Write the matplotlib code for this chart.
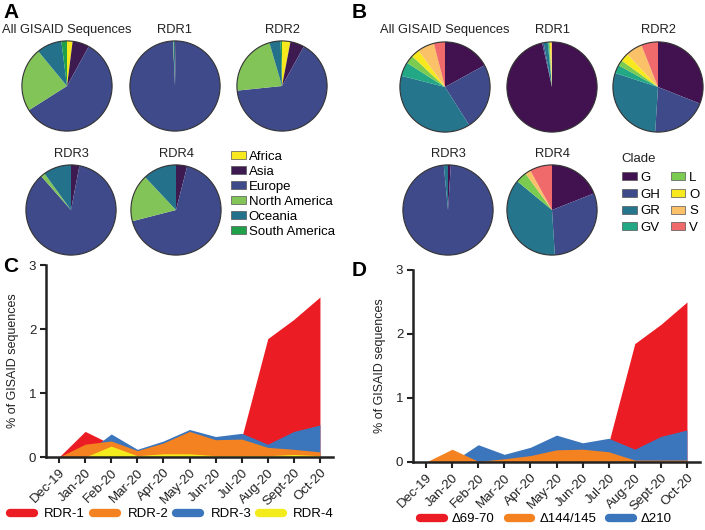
import numpy as np
import matplotlib
matplotlib.use("Agg")
import matplotlib.pyplot as plt
from matplotlib.lines import Line2D
from matplotlib.patches import Patch, Circle

plt.rcParams['font.family'] = ['Liberation Sans', 'DejaVu Sans']

W, H = 705, 530
FS = 9

# panel A: geographic origin
regions = ['Africa', 'Asia', 'Europe', 'North America', 'Oceania', 'South America']
regionColors = ['#f7e91e', '#3d1a4f', '#3f4a8a', '#82c458', '#23718a', '#21a04a']
regionAll = [2, 6, 58, 23, 9, 2]
regionRDR1 = [0, 0.3, 99, 0.2, 0.5, 0]
regionRDR2 = [3, 5, 65, 22, 4, 0.5]
regionRDR3 = [0, 3, 85.5, 1.5, 10, 0]
regionRDR4 = [0, 4, 67, 17, 12, 0]

# panel B: clades
clades = ['G', 'GH', 'GR', 'GV', 'L', 'O', 'S', 'V']
cladeColors = ['#41124f', '#3f4a8a', '#25758c', '#22a884', '#7acb50', '#f7e91e', '#fbc168', '#f06a6c']
cladeAll = [17, 24, 38, 5, 3, 3, 6, 4]
cladeRDR1 = [96.5, 0.5, 1.5, 0.3, 0.4, 0.4, 0.4, 0]
cladeRDR2 = [31, 20, 29, 3, 2, 3, 6, 6]
cladeRDR3 = [1, 97.5, 1.5, 0, 0, 0, 0, 0]
cladeRDR4 = [19, 30, 37, 0, 4, 0, 2, 8]

pieTitles = ['All GISAID Sequences', 'RDR1', 'RDR2', 'RDR3', 'RDR4']

# panels C, D: monthly frequency
months = ['Dec-19', 'Jan-20', 'Feb-20', 'Mar-20', 'Apr-20', 'May-20',
          'Jun-20', 'Jul-20', 'Aug-20', 'Sept-20', 'Oct-20']
rdr1 = [0, 0.40, 0.20, 0.05, 0.10, 0.20, 0.20, 0.30, 1.85, 2.15, 2.50]
rdr2 = [0, 0.20, 0.25, 0.10, 0.22, 0.40, 0.27, 0.28, 0.15, 0.12, 0.08]
rdr3 = [0, 0.05, 0.36, 0.12, 0.25, 0.43, 0.32, 0.37, 0.20, 0.40, 0.50]
rdr4 = [0, 0.00, 0.17, 0.02, 0.05, 0.05, 0.02, 0.02, 0.02, 0.04, 0.02]

del6970 = [0, 0, 0, 0, 0, 0, 0, 0.30, 1.85, 2.15, 2.50]
del144 = [0, 0.20, 0.01, 0.05, 0.10, 0.19, 0.20, 0.16, 0.03, 0.03, 0.03]
del210 = [0, 0.00, 0.27, 0.12, 0.23, 0.42, 0.30, 0.37, 0.20, 0.40, 0.50]

RED, ORANGE, BLUE, YELLOW = '#ec1c24', '#f58220', '#3b75bb', '#f4eb1c'


def px_axes(fig, x, y, w, h):
    return fig.add_axes([x / W, 1 - (y + h) / H, w / W, h / H])


def draw_pie(fig, cx, cy, r, values, colors, title, ty):
    ax = px_axes(fig, cx - r, cy - r, 2 * r, 2 * r)
    vals = [v for v in values if v > 0]
    cols = [c for v, c in zip(values, colors) if v > 0]
    ax.pie(vals, colors=cols, startangle=90, counterclock=False,
           wedgeprops=dict(linewidth=0))
    ax.add_patch(Circle((0, 0), 1, fill=False, lw=0.8, ec='#333333'))
    ax.set_xlim(-1.02, 1.02)
    ax.set_ylim(-1.02, 1.02)
    ax.set_aspect('equal')
    ax.axis('off')
    fig.text(cx / W, 1 - ty / H, title, ha='center', va='center', fontsize=FS + 0.3,
             color='#222222')


def draw_area(fig, box, series, colors):
    ax = px_axes(fig, *box)
    x = np.arange(len(months))
    for vals, c in zip(series, colors):
        ax.fill_between(x, 0, vals, color=c, lw=0)
    ax.set_xlim(-0.5, 10.5)
    ax.set_ylim(0, 3)
    ax.set_yticks([0, 1, 2, 3])
    ax.set_xticks(x)
    ax.set_xticklabels(months, rotation=45, ha='right', rotation_mode='anchor')
    ax.tick_params(axis='both', width=1.5, length=4, labelsize=FS + 0.5,
                   colors='#222222', pad=3)
    for s in ['top', 'right']:
        ax.spines[s].set_visible(False)
    for s in ['left', 'bottom']:
        ax.spines[s].set_linewidth(1.8)
        ax.spines[s].set_color('#222222')
    ax.set_ylabel('% of GISAID sequences', fontsize=FS, labelpad=7, color='#222222')
    return ax


fig = plt.figure(figsize=(W / 100, H / 100), dpi=100)

# A
rowA1 = [regionAll, regionRDR1, regionRDR2]
for cx, vals, t in zip([67, 175, 282], rowA1, pieTitles[:3]):
    draw_pie(fig, cx, 86, 46, vals, regionColors, t, 30)
for cx, vals, t in zip([71, 176], [regionRDR3, regionRDR4], pieTitles[3:]):
    draw_pie(fig, cx, 210, 46, vals, regionColors, t, 154)

hA = [Patch(facecolor=c, edgecolor='#555555', lw=0.5) for c in regionColors]
fig.legend(hA, regions, loc='upper left', bbox_to_anchor=(231 / W, 1 - 151 / H),
           frameon=False, fontsize=FS + 0.5, handlelength=1.1, handleheight=0.55,
           handletextpad=0.25, labelspacing=0.22, borderpad=0, borderaxespad=0)

# B
rowB1 = [cladeAll, cladeRDR1, cladeRDR2]
for cx, vals, t in zip([445, 552, 658], rowB1, pieTitles[:3]):
    draw_pie(fig, cx, 87, 46, vals, cladeColors, t, 30)
for cx, vals, t in zip([448, 552], [cladeRDR3, cladeRDR4], pieTitles[3:]):
    draw_pie(fig, cx, 210, 46, vals, cladeColors, t, 154)

fig.text(621 / W, 1 - 159 / H, 'Clade', ha='left', va='center', fontsize=FS + 0.5,
         color='#222222')
hB = [Patch(facecolor=c, edgecolor='#555555', lw=0.5) for c in cladeColors]
fig.legend(hB, clades, loc='upper left', bbox_to_anchor=(622 / W, 1 - 172 / H),
           frameon=False, fontsize=FS + 0.5, ncol=2,
           handlelength=1.1, handleheight=0.55,
           handletextpad=0.3, labelspacing=0.35, columnspacing=0.8, borderpad=0,
           borderaxespad=0)

# C
draw_area(fig, (46, 265, 287, 192), [rdr1, rdr3, rdr2, rdr4], [RED, BLUE, ORANGE, YELLOW])
hC = [Line2D([], [], color=c, lw=6, solid_capstyle='round') for c in [RED, ORANGE, BLUE, YELLOW]]
fig.legend(hC, ['RDR-1', 'RDR-2', 'RDR-3', 'RDR-4'], loc='center left',
           bbox_to_anchor=(10 / W, 1 - 514 / H), ncol=4, frameon=False, fontsize=FS + 0.5,
           handlelength=1.8, handletextpad=0.8, columnspacing=0.6, borderpad=0,
           borderaxespad=0)

# D
draw_area(fig, (413, 270, 287, 192), [del6970, del210, del144], [RED, BLUE, ORANGE])
hD = [Line2D([], [], color=c, lw=6, solid_capstyle='round') for c in [RED, ORANGE, BLUE]]
fig.legend(hD, ['Δ69-70', 'Δ144/145', 'Δ210'], loc='center left',
           bbox_to_anchor=(420 / W, 1 - 519 / H), ncol=3, frameon=False, fontsize=FS + 0.5,
           handlelength=1.8, handletextpad=0.6, columnspacing=1.0, borderpad=0,
           borderaxespad=0)

# panel letters
for lab, x, y in [('A', 3, 12), ('B', 352, 12), ('C', 3, 266), ('D', 352, 270)]:
    fig.text(x / W, 1 - y / H, lab, fontsize=15, fontweight='bold', va='center',
             family=['Liberation Sans Narrow', 'Liberation Sans'])

fig.savefig('out.png', dpi=100)
